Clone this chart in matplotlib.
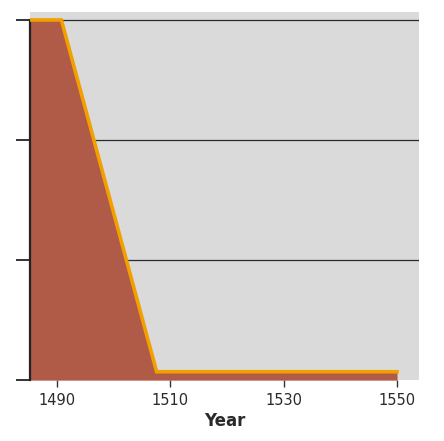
import matplotlib
matplotlib.use("Agg")
from matplotlib import pyplot as plt

# Population (no units printed on the axis)
years = [1485.3, 1490.8, 1507.6, 1550]
population = [3.0, 3.0, 0.07, 0.07]

x_ticks = [1490, 1510, 1530, 1550]
y_ticks = [0, 1, 2, 3]

def main() :
    fig = plt.figure(figsize=(4.44, 4.41), dpi=100)
    ax = fig.add_axes([0.068, 0.138, 0.876, 0.835])
    ax.set_facecolor("#dadada")

    # Filled area and its orange edge
    ax.fill_between(years, population, 0, color="#b05a48", linewidth=0, zorder=2)
    ax.plot(years, population, color="#f2a000", linewidth=2.6, solid_joinstyle="miter", zorder=3)

    # Horizontal rules across the plot
    for y in y_ticks[1:] :
        ax.axhline(y, color="#2a2a2a", linewidth=0.9, zorder=1)

    ax.set_xlim(1485.3, 1553.9)
    ax.set_ylim(0, 3.067)

    for side in ["top", "right"] :
        ax.spines[side].set_visible(False)
    ax.spines["left"].set_bounds(0, 3)
    ax.spines["left"].set_linewidth(1.6)
    ax.spines["left"].set_color("#222222")
    ax.spines["bottom"].set_visible(False)
    # Bottom axis line, sticking out a bit left of the y axis
    ax.plot([-0.018, 1], [0, 0], transform=ax.get_xaxis_transform(),
            color="#222222", linewidth=1.8, clip_on=False, zorder=4)

    ax.set_xticks(x_ticks)
    ax.set_xticklabels([str(t) for t in x_ticks], fontsize=10.5, color="#2a2a2a")
    ax.set_yticks(y_ticks)
    ax.set_yticklabels([])
    ax.tick_params(axis="x", direction="out", length=5, width=1, color="#333333", pad=4)
    ax.tick_params(axis="y", direction="out", length=10, width=1.4, color="#333333")

    ax.set_xlabel("Year", fontsize=12, fontweight="bold", color="#2a2a2a", labelpad=3)

    fig.savefig("out.png", dpi=100)
    plt.close(fig)

if __name__ == "__main__" :
    main()
